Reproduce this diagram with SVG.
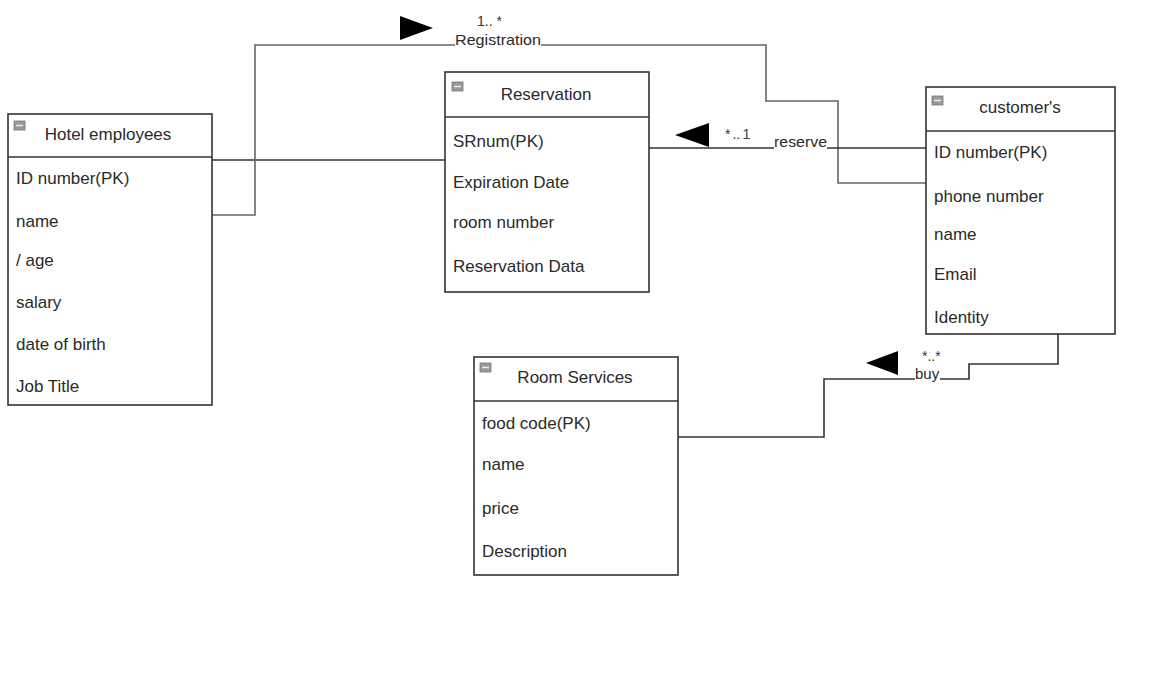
<svg xmlns="http://www.w3.org/2000/svg" width="1171" height="678" viewBox="0 0 1171 678">
  <style>
    .box { fill: #ffffff; stroke: #333333; stroke-width: 1.6; }
    .sep { stroke: #333333; stroke-width: 1.6; }
    .icon { fill: #9a9a9a; stroke: #777777; stroke-width: 0.8; }
    .icon-bar { stroke: #eeeeee; stroke-width: 1.4; }
    .title { font-family: "Liberation Sans", Arial, sans-serif; font-size: 17px; fill: #2a2a2a; text-anchor: middle; }
    .attr { font-family: "Liberation Sans", Arial, sans-serif; font-size: 17px; fill: #2a2a2a; }
    .wire { fill: none; stroke: #333333; stroke-width: 1.6; }
    .wire-light { fill: none; stroke: #666666; stroke-width: 1.6; }
    .label { font-family: "Liberation Sans", Arial, sans-serif; font-size: 15px; fill: #2a2a2a; }
    .mult { font-family: "Liberation Sans", Arial, sans-serif; font-size: 14px; fill: #333333; }
    .head { fill: #000000; }
  </style>
  <defs>
    <g id="collapse-icon">
      <rect class="icon" x="0" y="0" width="11" height="9"/>
      <line class="icon-bar" x1="2" y1="4.5" x2="9" y2="4.5"/>
    </g>
  </defs>
  <rect width="1171" height="678" fill="#ffffff"/>

  <!-- associations -->
  <g id="connectors">
    <!-- Hotel employees to Reservation -->
    <line class="wire" x1="212" y1="160" x2="445" y2="160"/>
    <!-- Registration: Hotel employees to customer's -->
    <polyline class="wire-light" points="212,215 255,215 255,45 455,45"/>
    <polyline class="wire-light" points="541,45 766,45 766,101 838,101 838,183 926,183"/>
    <polygon class="head" points="400,16 400,40 433,28"/>
    <text class="mult" x="477" y="26">1.. *</text>
    <text class="label" x="455" y="45" textLength="86" lengthAdjust="spacingAndGlyphs">Registration</text>
    <!-- reserve: customer's to Reservation -->
    <line class="wire" x1="649" y1="148" x2="774" y2="148"/>
    <line class="wire" x1="827" y1="148" x2="926" y2="148"/>
    <polygon class="head" points="675,135 709,123 709,147"/>
    <text class="mult" x="725" y="139">*<tspan dx="2">..</tspan><tspan dx="2" font-size="15" fill="#2f4f3f">1</tspan></text>
    <text class="label" x="774" y="147" textLength="53" lengthAdjust="spacingAndGlyphs">reserve</text>
    <!-- buy: customer's to Room Services -->
    <polyline class="wire" points="1058,334 1058,364 969,364 969,379 940,379"/>
    <polyline class="wire" points="915,379 824,379 824,437 678,437"/>
    <polygon class="head" points="866,363 898,351 898,375"/>
    <text class="mult" x="922" y="361">*..*</text>
    <text class="label" x="915" y="379">buy</text>
  </g>

  <!-- Hotel employees -->
  <g id="hotel-employees">
    <rect class="box" x="8" y="114" width="204" height="291"/>
    <line class="sep" x1="8" y1="157" x2="212" y2="157"/>
    <use href="#collapse-icon" x="14" y="121"/>
    <text class="title" x="108" y="140">Hotel employees</text>
    <text class="attr" x="16" y="184">ID number(PK)</text>
    <text class="attr" x="16" y="227">name</text>
    <text class="attr" x="16" y="266">/ age</text>
    <text class="attr" x="16" y="308">salary</text>
    <text class="attr" x="16" y="350">date of birth</text>
    <text class="attr" x="16" y="392">Job Title</text>
  </g>

  <!-- Reservation -->
  <g id="reservation">
    <rect class="box" x="445" y="72" width="204" height="220"/>
    <line class="sep" x1="445" y1="117" x2="649" y2="117"/>
    <use href="#collapse-icon" x="452" y="82"/>
    <text class="title" x="546" y="100">Reservation</text>
    <text class="attr" x="453" y="147">SRnum(PK)</text>
    <text class="attr" x="453" y="188">Expiration Date</text>
    <text class="attr" x="453" y="228">room number</text>
    <text class="attr" x="453" y="272">Reservation Data</text>
  </g>

  <!-- customer's -->
  <g id="customers">
    <rect class="box" x="926" y="87" width="189" height="247"/>
    <line class="sep" x1="926" y1="131" x2="1115" y2="131"/>
    <use href="#collapse-icon" x="932" y="96"/>
    <text class="title" x="1020" y="113">customer's</text>
    <text class="attr" x="934" y="158">ID number(PK)</text>
    <text class="attr" x="934" y="202">phone number</text>
    <text class="attr" x="934" y="240">name</text>
    <text class="attr" x="934" y="280">Email</text>
    <text class="attr" x="934" y="323">Identity</text>
  </g>

  <!-- Room Services -->
  <g id="room-services">
    <rect class="box" x="474" y="357" width="204" height="218"/>
    <line class="sep" x1="474" y1="401" x2="678" y2="401"/>
    <use href="#collapse-icon" x="480" y="363"/>
    <text class="title" x="575" y="383">Room Services</text>
    <text class="attr" x="482" y="429">food code(PK)</text>
    <text class="attr" x="482" y="470">name</text>
    <text class="attr" x="482" y="514">price</text>
    <text class="attr" x="482" y="557">Description</text>
  </g>
</svg>
